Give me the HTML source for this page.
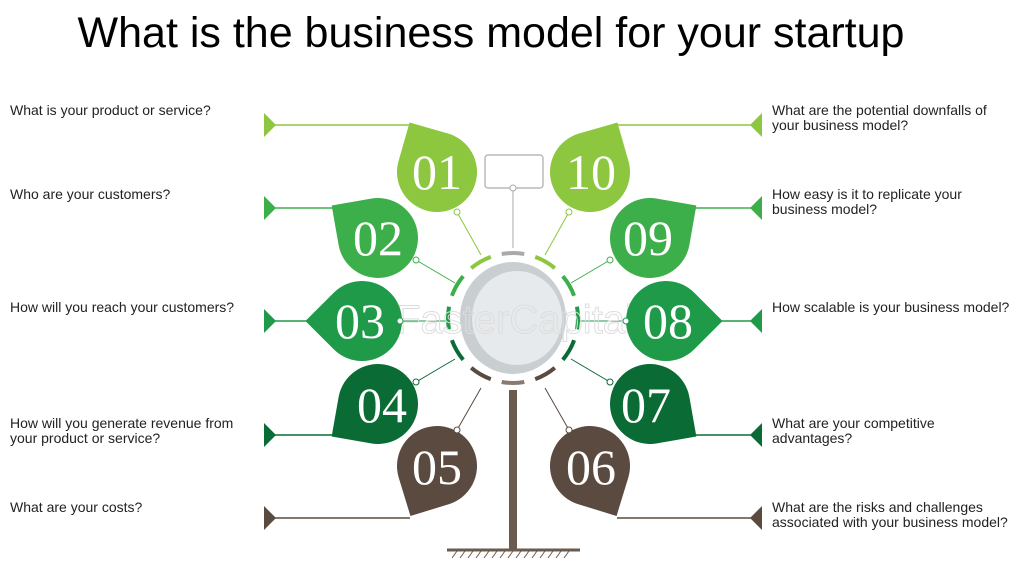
<!DOCTYPE html>
<html><head><meta charset="utf-8"><style>
body{margin:0;width:1024px;height:576px;background:#fff;overflow:hidden;font-family:"Liberation Sans",sans-serif}
</style></head><body>
<svg width="1024" height="576" viewBox="0 0 1024 576" xmlns="http://www.w3.org/2000/svg">
<text x="491" y="47" font-family="Liberation Sans, sans-serif" font-size="43" text-anchor="middle" fill="#000">What is the business model for your startup</text>
<g font-family="Liberation Sans, sans-serif" font-size="14" fill="#222">
<text x="10" y="115">What is your product or service?</text>
<text x="10" y="199">Who are your customers?</text>
<text x="10" y="312">How will you reach your customers?</text>
<text x="10" y="428">How will you generate revenue from</text>
<text x="10" y="443">your product or service?</text>
<text x="10" y="512">What are your costs?</text>
<text x="772" y="115">What are the potential downfalls of</text>
<text x="772" y="130">your business model?</text>
<text x="772" y="199">How easy is it to replicate your</text>
<text x="772" y="214">business model?</text>
<text x="772" y="312">How scalable is your business model?</text>
<text x="772" y="428">What are your competitive</text>
<text x="772" y="443">advantages?</text>
<text x="772" y="512">What are the risks and challenges</text>
<text x="772" y="527">associated with your business model?</text>
</g>
<g stroke-width="1.5">
<line x1="270" y1="125" x2="412" y2="125" stroke="#8dc63f"/>
<line x1="270" y1="208" x2="335" y2="208" stroke="#3daf4a"/>
<line x1="270" y1="321" x2="307" y2="321" stroke="#1e9a48"/>
<line x1="270" y1="435" x2="335" y2="435" stroke="#0b6b35"/>
<line x1="270" y1="518" x2="410" y2="518" stroke="#5a4a40"/>
<line x1="617" y1="125" x2="756" y2="125" stroke="#8dc63f"/>
<line x1="693" y1="208" x2="756" y2="208" stroke="#3daf4a"/>
<line x1="720" y1="321" x2="756" y2="321" stroke="#1e9a48"/>
<line x1="693" y1="435" x2="756" y2="435" stroke="#0b6b35"/>
<line x1="617" y1="518" x2="756" y2="518" stroke="#5a4a40"/>
</g>
<polygon points="264,113 276,125 264,137" fill="#8dc63f"/>
<polygon points="264,196 276,208 264,220" fill="#3daf4a"/>
<polygon points="264,309 276,321 264,333" fill="#1e9a48"/>
<polygon points="264,423 276,435 264,447" fill="#0b6b35"/>
<polygon points="264,506 276,518 264,530" fill="#5a4a40"/>
<polygon points="762,113 750,125 762,137" fill="#8dc63f"/>
<polygon points="762,196 750,208 762,220" fill="#3daf4a"/>
<polygon points="762,309 750,321 762,333" fill="#1e9a48"/>
<polygon points="762,423 750,435 762,447" fill="#0b6b35"/>
<polygon points="762,506 750,518 762,530" fill="#5a4a40"/>
<g stroke-width="1">
<line x1="457" y1="212" x2="481" y2="255" stroke="#8dc63f"/>
<line x1="416" y1="260" x2="455" y2="283" stroke="#3daf4a"/>
<line x1="400" y1="321" x2="448" y2="321" stroke="#1e9a48"/>
<line x1="416" y1="382" x2="455" y2="359" stroke="#0b6b35"/>
<line x1="457" y1="430" x2="481" y2="388" stroke="#5a4a40"/>
<line x1="569" y1="212" x2="545" y2="255" stroke="#8dc63f"/>
<line x1="610" y1="260" x2="571" y2="283" stroke="#3daf4a"/>
<line x1="626" y1="321" x2="578" y2="321" stroke="#1e9a48"/>
<line x1="610" y1="382" x2="571" y2="359" stroke="#0b6b35"/>
<line x1="569" y1="430" x2="545" y2="388" stroke="#5a4a40"/>
<line x1="513" y1="188" x2="513" y2="248" stroke="#aaa"/>
</g>
<rect x="485" y="155" width="58" height="33" rx="3" fill="#fff" stroke="#aaa" stroke-width="1.2"/>
<circle cx="513" cy="188" r="3" fill="#fff" stroke="#aaa"/>
<rect x="509" y="390" width="8" height="160" fill="#6b5a4e"/>
<line x1="447" y1="550" x2="580" y2="550" stroke="#6b5a4e" stroke-width="3"/>
<g stroke="#6b5a4e" stroke-width="1">
<path d="M452 558l5-7M460 558l5-7M468 558l5-7M476 558l5-7M484 558l5-7M492 558l5-7M500 558l5-7M508 558l5-7M516 558l5-7M524 558l5-7M532 558l5-7M540 558l5-7M548 558l5-7M556 558l5-7M564 558l5-7"/>
</g>
<g fill="none" stroke-width="4" transform="translate(513 318)">
<path d="M-11.3 -64 A65 65 0 0 1 11.3 -64" stroke="#aaa"/>
<path d="M-22.2 -61.1 A65 65 0 0 0 -41.8 -49.8" stroke="#8dc63f"/>
<path d="M22.2 -61.1 A65 65 0 0 1 41.8 -49.8" stroke="#8dc63f"/>
<path d="M-49.8 -41.8 A65 65 0 0 0 -61.1 -22.2" stroke="#3daf4a"/>
<path d="M49.8 -41.8 A65 65 0 0 1 61.1 -22.2" stroke="#3daf4a"/>
<path d="M-64 -11.3 A65 65 0 0 0 -64 11.3" stroke="#1e9a48"/>
<path d="M64 -11.3 A65 65 0 0 1 64 11.3" stroke="#1e9a48"/>
<path d="M-61.1 22.2 A65 65 0 0 0 -49.8 41.8" stroke="#0b6b35"/>
<path d="M61.1 22.2 A65 65 0 0 1 49.8 41.8" stroke="#0b6b35"/>
<path d="M-41.8 49.8 A65 65 0 0 0 -22.2 61.1" stroke="#5a4a40"/>
<path d="M41.8 49.8 A65 65 0 0 1 22.2 61.1" stroke="#5a4a40"/>
<path d="M-11.3 64 A65 65 0 0 0 11.3 64" stroke="#8a7a6e"/>
</g>
<ellipse cx="513" cy="318" rx="53" ry="56" fill="#c9cfd1"/>
<ellipse cx="517" cy="318" rx="45" ry="47" fill="#e6eaec"/>
<text x="515" y="333" font-family="Liberation Sans, sans-serif" font-size="40" fill="none" stroke="#ddd" stroke-width="1" text-anchor="middle">FasterCapital</text>
<defs><path id="lf" d="M-40 -40 L0 -40 A40 40 0 0 1 40 0 A40 40 0 0 1 0 40 A40 40 0 0 1 -40 0 Z"/></defs>
<use href="#lf" fill="#8dc63f" transform="translate(437 172) rotate(16)"/>
<use href="#lf" fill="#3daf4a" transform="translate(378 238) rotate(-10)"/>
<use href="#lf" fill="#1e9a48" transform="translate(362 321) rotate(-45)"/>
<use href="#lf" fill="#0b6b35" transform="translate(378 404) rotate(-80)"/>
<use href="#lf" fill="#5a4a40" transform="translate(437 466) rotate(-107)"/>
<use href="#lf" fill="#8dc63f" transform="translate(590 172) rotate(74)"/>
<use href="#lf" fill="#3daf4a" transform="translate(650 238) rotate(100)"/>
<use href="#lf" fill="#1e9a48" transform="translate(666 321) rotate(135)"/>
<use href="#lf" fill="#0b6b35" transform="translate(650 404) rotate(170)"/>
<use href="#lf" fill="#5a4a40" transform="translate(590 466) rotate(197)"/>
<g fill="#fff" stroke-width="1">
<circle cx="457" cy="212" r="3" stroke="#8dc63f"/><circle cx="416" cy="260" r="3" stroke="#3daf4a"/>
<circle cx="400" cy="321" r="3" stroke="#1e9a48"/><circle cx="416" cy="382" r="3" stroke="#0b6b35"/>
<circle cx="457" cy="430" r="3" stroke="#5a4a40"/><circle cx="569" cy="212" r="3" stroke="#8dc63f"/>
<circle cx="610" cy="260" r="3" stroke="#3daf4a"/><circle cx="626" cy="321" r="3" stroke="#1e9a48"/>
<circle cx="610" cy="382" r="3" stroke="#0b6b35"/><circle cx="569" cy="430" r="3" stroke="#5a4a40"/>
</g>
<g font-family="Liberation Serif, serif" font-size="50" fill="#fff" text-anchor="middle">
<text x="437" y="189">01</text><text x="378" y="255">02</text><text x="360" y="338">03</text>
<text x="382" y="422">04</text><text x="437" y="484">05</text>
<text x="591" y="189">10</text><text x="648" y="255">09</text><text x="668" y="338">08</text>
<text x="646" y="422">07</text><text x="591" y="484">06</text>
</g>
</svg>
</body></html>
